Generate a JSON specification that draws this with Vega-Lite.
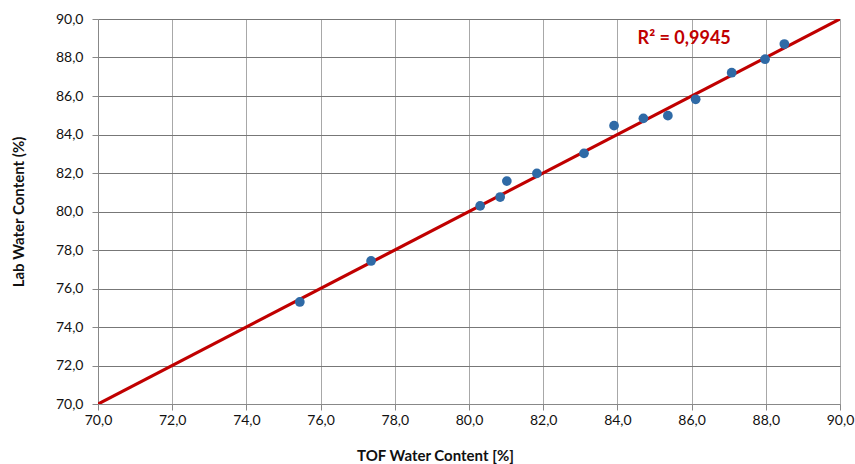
{
  "$schema": "https://vega.github.io/schema/vega-lite/v6.json",
  "width": 742,
  "height": 385,
  "autosize": {"type": "none"},
  "padding": {"left": 98, "top": 19, "right": 15, "bottom": 60},
  "background": "white",
  "config": {
    "view": {"stroke": null},
    "font": "Lato",
    "axis": {
      "labelFont": "Lato",
      "titleFont": "Lato",
      "labelFontSize": 14,
      "titleFontSize": 15,
      "labelColor": "#111",
      "titleColor": "#111",
      "titleFontWeight": "bold",
      "domainColor": "#888",
      "tickColor": "#888",
      "tickSize": 6,
      "labelOverlap": false,
      "labelFlush": false,
      "labelBound": false
    }
  },
  "datasets": {
    "pts": [
      {"tof": 75.44, "lab": 75.30},
      {"tof": 77.36, "lab": 77.43},
      {"tof": 80.30, "lab": 80.29},
      {"tof": 80.84, "lab": 80.75},
      {"tof": 81.02, "lab": 81.58},
      {"tof": 81.83, "lab": 81.98},
      {"tof": 83.10, "lab": 83.02},
      {"tof": 83.91, "lab": 84.46},
      {"tof": 84.70, "lab": 84.84},
      {"tof": 85.36, "lab": 84.98},
      {"tof": 86.11, "lab": 85.83},
      {"tof": 87.08, "lab": 87.21},
      {"tof": 87.98, "lab": 87.91},
      {"tof": 88.50, "lab": 88.70}
    ],
    "trend": [
      {"tof": 70.0, "lab": 70.0},
      {"tof": 90.0, "lab": 90.0}
    ],
    "label": [
      {"tof": 85.8, "lab": 88.96, "text": "R² = 0,9945"}
    ]
  },
  "encoding": {
    "x": {
      "field": "tof", "type": "quantitative",
      "scale": {"domain": [70, 90], "nice": false, "zero": false},
      "axis": {
        "title": "TOF Water Content [%]",
        "values": [70, 72, 74, 76, 78, 80, 82, 84, 86, 88, 90],
        "format": ".1f",
        "labelExpr": "replace(datum.label, '.', ',')",
        "grid": true,
        "gridColor": "#a8a8a8",
        "gridWidth": 1,
        "labelPadding": 3,
        "titlePadding": 21,
        "titleX": 337
      }
    },
    "y": {
      "field": "lab", "type": "quantitative",
      "scale": {"domain": [70, 90], "nice": false, "zero": false},
      "axis": {
        "title": "Lab Water Content (%)",
        "values": [70, 72, 74, 76, 78, 80, 82, 84, 86, 88, 90],
        "tickCount": 11,
        "format": ".1f",
        "labelExpr": "replace(datum.label, '.', ',')",
        "grid": true,
        "gridColor": "#777",
        "gridWidth": 1,
        "labelPadding": 9,
        "titlePadding": 29
      }
    }
  },
  "layer": [
    {
      "data": {"name": "trend"},
      "mark": {"type": "line", "color": "#c00000", "strokeWidth": 3.2, "clip": true}
    },
    {
      "data": {"name": "pts"},
      "mark": {"type": "circle", "color": "#2f6aa6", "opacity": 1, "size": 95}
    },
    {
      "data": {"name": "label"},
      "mark": {"type": "text", "color": "#c00000", "fontWeight": "bold", "fontSize": 18, "font": "Lato", "align": "center", "baseline": "middle"},
      "encoding": {
        "text": {"field": "text"}
      }
    }
  ]
}
